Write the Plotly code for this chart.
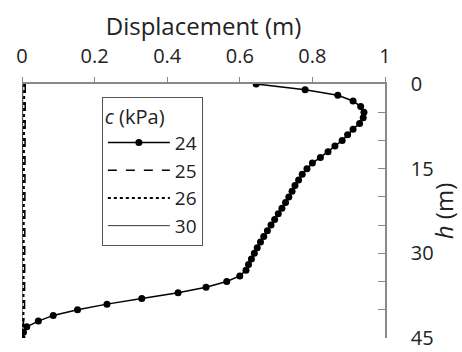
import plotly.graph_objects as go

# Depth below crest (m)
depth = list(range(0, 46))

# Displacement profiles (m) for each cohesion value
disp_c24 = [0.645, 0.78, 0.87, 0.912, 0.933, 0.942, 0.94, 0.93, 0.912, 0.897,
            0.882, 0.862, 0.843, 0.822, 0.80, 0.785, 0.772, 0.762, 0.752, 0.744,
            0.735, 0.726, 0.716, 0.706, 0.696, 0.686, 0.676, 0.666, 0.657, 0.648,
            0.640, 0.632, 0.624, 0.617, 0.600, 0.564, 0.507, 0.43, 0.33, 0.234,
            0.153, 0.086, 0.045, 0.013, 0.004, 0.0]
disp_c25 = [0.009] * 36 + [0.009, 0.008, 0.008, 0.007, 0.007, 0.006, 0.005, 0.004, 0.002, 0.0]
disp_c26 = [0.006] * 36 + [0.006, 0.006, 0.005, 0.005, 0.005, 0.004, 0.003, 0.002, 0.001, 0.0]
disp_c30 = [0.002] * 40 + [0.002, 0.002, 0.001, 0.001, 0.0, 0.0]

cohesion_labels = ["24", "25", "26", "30"]

FONT = "Open Sans"

fig = go.Figure()
fig.add_trace(go.Scatter(x=disp_c24, y=depth, name=cohesion_labels[0], mode="lines+markers",
                         line=dict(color="black", width=1.5),
                         marker=dict(color="black", size=7)))
fig.add_trace(go.Scatter(x=disp_c25, y=depth, name=cohesion_labels[1], mode="lines",
                         line=dict(color="black", width=1.5, dash="dash")))
fig.add_trace(go.Scatter(x=disp_c26, y=depth, name=cohesion_labels[2], mode="lines",
                         line=dict(color="black", width=2, dash="dot")))
fig.add_trace(go.Scatter(x=disp_c30, y=depth, name=cohesion_labels[3], mode="lines",
                         line=dict(color="black", width=0.8)))

fig.update_layout(
    width=462, height=352,
    margin=dict(l=22, r=77, t=84, b=14),
    paper_bgcolor="white", plot_bgcolor="white",
    font=dict(family=FONT, size=20, color="#222"),
    legend=dict(
        title=dict(text="<i>c</i> (kPa)", font=dict(size=20)),
        x=0.22, y=0.95, xanchor="left", yanchor="top",
        bordercolor="#555", borderwidth=1, bgcolor="white",
        itemwidth=62, font=dict(size=19),
        tracegroupgap=0,
    ),
    xaxis=dict(
        side="top", range=[0, 1], tickvals=[0, 0.2, 0.4, 0.6, 0.8, 1],
        ticktext=["0", "0.2", "0.4", "0.6", "0.8", "1"],
        ticks="outside", ticklen=5, tickcolor="#888",
        ticklabelstandoff=6, automargin=False,
        showline=True, linecolor="#888", linewidth=1.5,
        showgrid=False, zeroline=False,
        title=dict(text="Displacement (m)", standoff=0),
    ),
    yaxis=dict(
        side="right", range=[45, 0], tickvals=list(range(0, 46, 5)),
        ticktext=["0", "", "", "15", "", "", "30", "", "", "45"],
        ticks="inside", ticklen=7, tickcolor="#888",
        ticklabelstandoff=20, ticklabeloverflow="allow", automargin=False,
        showline=True, linecolor="#888", linewidth=1.5,
        showgrid=False, zeroline=False,
        title=dict(text="<i>h</i> (m)", standoff=4),
    ),
    showlegend=True,
)

fig.write_html("out.html")
